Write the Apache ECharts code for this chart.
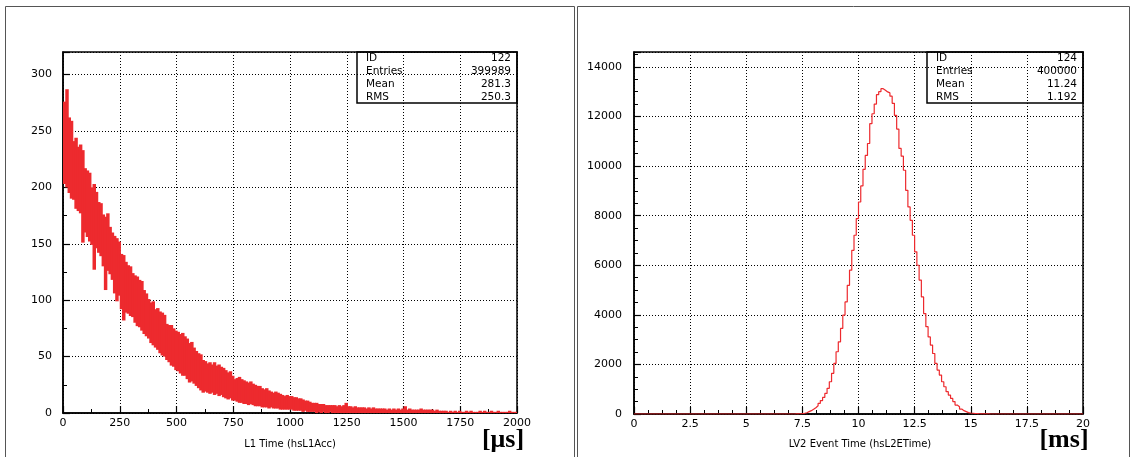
<!DOCTYPE html>
<html>
<head>
<meta charset="utf-8">
<script src="https://cdn.jsdelivr.net/npm/echarts@6/dist/echarts.min.js"></script>
<style>
  html, body { margin: 0; padding: 0; background: #fff; }
  #main { width: 1133px; height: 457px; }
</style>
</head>
<body>
<div id="main"></div>
<script>
// L1 time histogram: band of noisy bins, 10 us columns from 0 to 2000 us
const l1BinWidth = 10;
const l1Upper = [
  276, 287, 262, 259, 241, 244, 236, 238, 233, 217,
  215, 213, 200, 203, 196, 187, 186, 176, 174, 177,
  165, 160, 157, 155, 152, 141, 140, 134, 131, 130,
  124, 122, 121, 118, 117, 109, 106, 101, 98, 99,
  92, 93, 90, 89, 87, 79, 78, 78, 75, 73,
  72, 70, 71, 68, 66, 62, 63, 58, 55, 53,
  52, 47, 46, 44, 45, 43, 45, 42, 43, 41,
  40, 38, 36, 37, 33, 30, 31, 32, 30, 29,
  28, 27, 28, 26, 25, 24, 24, 22, 21, 22,
  20, 19, 18, 19, 18, 17, 16, 15, 16, 15,
  15, 14, 14, 13, 13, 12, 11, 11, 10, 9,
  9, 9, 8, 8, 8, 7, 7, 7, 7, 7,
  6, 7, 6, 7, 9, 6, 6, 5, 6, 5,
  5, 5, 5, 4, 5, 4, 5, 4, 4, 4,
  4, 4, 3, 4, 3, 4, 3, 4, 3, 4,
  6, 3, 4, 3, 3, 3, 3, 4, 3, 3,
  3, 3, 3, 2, 3, 2, 2, 2, 2, 1,
  2, 1, 2, 1, 2, 1, 1, 2, 1, 2,
  1, 1, 1, 2, 1, 2, 1, 1, 2, 1,
  1, 2, 1, 1, 1, 1, 2, 1, 1, 1
];
const l1Lower = [
  203, 200, 195, 190, 189, 181, 179, 177, 151, 160,
  156, 152, 149, 127, 146, 142, 139, 130, 109, 126,
  123, 118, 106, 99, 104, 92, 82, 89, 88, 86,
  85, 80, 77, 76, 73, 70, 68, 66, 62, 60,
  58, 56, 53, 51, 50, 47, 45, 42, 41, 38,
  37, 35, 33, 33, 30, 27, 28, 26, 24, 22,
  20, 18, 19, 18, 17, 18, 16, 17, 15, 16,
  14, 13, 12, 13, 11, 11, 10, 9, 9, 8,
  8, 7, 8, 7, 6, 6, 6, 5, 5, 5,
  4, 5, 4, 4, 4, 3, 3, 3, 3, 3,
  3, 2, 2, 2, 2, 1, 2, 1, 1, 1,
  1, 0, 1, 0, 1, 0, 0, 1, 0, 0,
  0, 0, 0, 0, 0, 0, 0, 0, 0, 0,
  0, 0, 0, 0, 0, 0, 0, 0, 0, 0,
  0, 0, 0, 0, 0, 0, 0, 0, 0, 0,
  0, 0, 0, 0, 0, 0, 0, 0, 0, 0,
  0, 0, 0, 0, 0, 0, 0, 0, 0, 0,
  0, 0, 0, 0, 0, 0, 0, 0, 0, 0,
  0, 0, 0, 0, 0, 0, 0, 0, 0, 0,
  0, 0, 0, 0, 0, 0, 0, 0, 0, 0
];

// LV2 event time histogram: 0.1 ms bins, non-empty part starting at 7.0 ms
const l2BinWidth = 0.1;
const l2Start = 7.0;
const l2Counts = [
  0, 2, 5, 10, 18, 30, 50, 95, 135, 190,
  255, 335, 430, 540, 670, 830, 1035, 1300, 1640, 2040,
  2510, 2910, 3450, 3990, 4520, 5190, 5800, 6600, 7210, 7880,
  8550, 9200, 9870, 10430, 10910, 11710, 12110, 12500, 12880, 13000,
  13120, 13060, 12990, 12950, 12820, 12530, 12040, 11490, 10710, 10400,
  9830, 9020, 8350, 7810, 7210, 6540, 6000, 5400, 4720, 4050,
  3520, 3110, 2780, 2440, 2040, 1770, 1570, 1300, 1100, 900,
  765, 630, 500, 360, 295, 200, 135, 95, 55, 40,
  30, 20, 15, 10, 8, 5, 3, 2, 1, 1, 0
];

const l1Stats = [['ID', '122'], ['Entries', '399989'], ['Mean', '281.3'], ['RMS', '250.3']];
const l2Stats = [['ID', '124'], ['Entries', '400000'], ['Mean', '11.24'], ['RMS', '1.192']];

const RED = '#ed2a2e';
const FONT = 'DejaVu Sans';

// band rectangles for the L1 histogram
const l1Data = l1Upper.map((u, i) => [i * l1BinWidth, l1Lower[i], u]);

// step outline for the LV2 histogram over the full 0..20 range
const l2Data = [];
for (let k = 0; k < 200; k++) {
  const j = k - Math.round(l2Start / l2BinWidth);
  const v = (j >= 0 && j < l2Counts.length) ? l2Counts[j] : 0;
  l2Data.push([k / 10, v]);
}
l2Data.push([20, 0]);

function xAxisCfg(gridIndex, max, interval, minorSplit) {
  return {
    type: 'value', gridIndex: gridIndex, min: 0, max: max, interval: interval,
    axisLine: { lineStyle: { color: '#000', width: 1.5 } },
    axisTick: { inside: true, length: 7, lineStyle: { color: '#000', width: 1.2 } },
    minorTick: { show: true, splitNumber: minorSplit, length: 4, lineStyle: { color: '#000', width: 1 } },
    axisLabel: { color: '#000', fontFamily: FONT, fontSize: 11, margin: 5, formatter: (v) => String(v) },
    splitLine: { show: true, lineStyle: { color: '#000', type: [1, 2], width: 1 } }
  };
}
function yAxisCfg(gridIndex, max, interval, minorSplit, margin) {
  return {
    type: 'value', gridIndex: gridIndex, min: 0, max: max, interval: interval,
    axisLine: { show: true, lineStyle: { color: '#000', width: 1.5 } },
    axisTick: { show: true, inside: true, length: 7, lineStyle: { color: '#000', width: 1.2 } },
    minorTick: { show: true, splitNumber: minorSplit, length: 4, lineStyle: { color: '#000', width: 1 } },
    axisLabel: { color: '#000', fontFamily: FONT, fontSize: 11, margin: margin, showMaxLabel: false, formatter: (v) => String(v) },
    splitLine: { show: true, lineStyle: { color: '#000', type: [1, 2], width: 1 } }
  };
}

function statsBox(x, y, w, h, rows) {
  const els = [{
    type: 'rect', shape: { x: x, y: y, width: w, height: h },
    style: { fill: 'rgba(0,0,0,0)', stroke: '#000', lineWidth: 1.5 }, z: 100
  }];
  rows.forEach((r, i) => {
    const ty = y + 6.5 + i * 12.8;
    els.push({ type: 'text', x: x + 9, y: ty, style: { text: r[0], fill: '#000', font: '10.5px "' + FONT + '"', textVerticalAlign: 'middle' }, z: 101 });
    els.push({ type: 'text', x: x + w - 6, y: ty, style: { text: r[1], fill: '#000', font: '10.5px "' + FONT + '"', textAlign: 'right', textVerticalAlign: 'middle' }, z: 101 });
  });
  return els;
}

const myChart = echarts.init(document.getElementById('main'), null, { renderer: 'canvas' });
let option = {
  animation: false,
  backgroundColor: '#fff',
  grid: [
    { left: 63, top: 52, width: 454, height: 361, show: true, borderColor: '#000', borderWidth: 1.5, backgroundColor: 'transparent' },
    { left: 634, top: 52, width: 449, height: 362, show: true, borderColor: '#000', borderWidth: 1.5, backgroundColor: 'transparent' }
  ],
  xAxis: [xAxisCfg(0, 2000, 250, 2), xAxisCfg(1, 20, 2.5, 4)],
  yAxis: [yAxisCfg(0, 320, 50, 2, 11), yAxisCfg(1, 14600, 2000, 4, 12)],
  series: [
    {
      type: 'custom', xAxisIndex: 0, yAxisIndex: 0, clip: true,
      encode: { x: 0, y: [1, 2] },
      data: l1Data,
      renderItem: function (params, api) {
        const x0 = api.value(0);
        const p0 = api.coord([x0, api.value(2)]);
        const p1 = api.coord([x0 + l1BinWidth, api.value(1)]);
        return {
          type: 'rect',
          shape: { x: p0[0], y: p0[1], width: p1[0] - p0[0] + 1.2, height: Math.max(p1[1] - p0[1], 1) },
          style: { fill: RED }
        };
      }
    },
    {
      type: 'line', xAxisIndex: 1, yAxisIndex: 1, step: 'end', showSymbol: false,
      lineStyle: { color: RED, width: 1.2 },
      data: l2Data
    }
  ],
  graphic: [
    { type: 'rect', shape: { x: 5.5, y: 6.5, width: 569, height: 470 }, style: { fill: 'none', stroke: '#555', lineWidth: 1 } },
    { type: 'rect', shape: { x: 577.5, y: 6.5, width: 552, height: 470 }, style: { fill: 'none', stroke: '#555', lineWidth: 1 } },
    { type: 'text', x: 290, y: 444, style: { text: 'L1 Time (hsL1Acc)', fill: '#000', font: '10px "' + FONT + '"', textAlign: 'center', textVerticalAlign: 'middle' } },
    { type: 'text', x: 860, y: 444, style: { text: 'LV2 Event Time (hsL2ETime)', fill: '#000', font: '10px "' + FONT + '"', textAlign: 'center', textVerticalAlign: 'middle' } },
    { type: 'text', x: 503, y: 440, style: { text: '[\u03bcs]', fill: '#000', font: 'bold 26px "Liberation Serif"', textAlign: 'center', textVerticalAlign: 'middle' } },
    { type: 'text', x: 1064, y: 440, style: { text: '[ms]', fill: '#000', font: 'bold 26px "Liberation Serif"', textAlign: 'center', textVerticalAlign: 'middle' } }
  ].concat(statsBox(357, 52, 160, 51, l1Stats)).concat(statsBox(927, 52, 156, 51, l2Stats))
};
option && myChart.setOption(option);
</script>
</body>
</html>
